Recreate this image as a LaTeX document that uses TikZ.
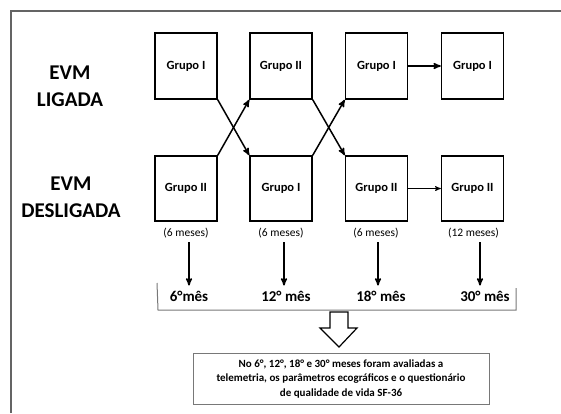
\documentclass[tikz,border=0pt]{standalone}
\usepackage{fontspec}
\setmainfont{Carlito}
\usetikzlibrary{arrows,calc}
\definecolor{frame_gray}{RGB}{100, 100, 100}
\definecolor{brace_gray}{RGB}{120, 120, 120}
\tikzstyle{gb}=[rectangle,draw=black,line width=1.5pt,inner sep=0pt,
  minimum width=62pt,minimum height=66pt,font=\bfseries\fontsize{12.5}{14}\selectfont]
\tikzstyle{lbl}=[align=center,font=\bfseries\fontsize{21}{27}\selectfont]
\tikzstyle{dur}=[inner sep=1pt,font=\fontsize{11.5}{13}\selectfont]
\tikzstyle{mes}=[inner sep=1pt,font=\bfseries\fontsize{15}{17}\selectfont]
\tikzstyle{arr}=[-stealth',line width=1.5pt]
\begin{document}
\begin{tikzpicture}[x=1pt,y=-1pt]
        \useasboundingbox (0,0) rectangle (561,413);
        % frame
        \draw[frame_gray,line width=2pt] (11,413) -- (11,11) -- (561,11);
        % row labels
        \node[style=lbl] (on) at (70,86) {EVM\\LIGADA};
        \node[style=lbl] (off) at (71,197) {EVM\\DESLIGADA};
        % groups
        \node[style=gb] (t1) at (186,66) {Grupo I};
        \node[style=gb] (t2) at (281,66) {Grupo II};
        \node[style=gb] (t3) at (376.5,66) {Grupo I};
        \node[style=gb] (t4) at (472.5,66) {Grupo I};
        \node[style=gb,minimum height=65pt] (b1) at (186,188.5) {Grupo II};
        \node[style=gb,minimum height=65pt] (b2) at (281,188.5) {Grupo I};
        \node[style=gb,minimum height=65pt] (b3) at (376.5,188.5) {Grupo II};
        \node[style=gb,minimum height=65pt] (b4) at (472.5,188.5) {Grupo II};
        \draw[style=arr] (t1.south east) to (b2.north west);
        \draw[style=arr] (b1.north east) to (t2.south west);
        \draw[style=arr] (t2.south east) to (b3.north west);
        \draw[style=arr] (b2.north east) to (t3.south west);
        \draw[style=arr] (t3) to (t4);
        \draw[style=arr,line width=1pt] (b3) to (b4);
        % durations
        \node[style=dur] (d1) at (186,233) {(6 meses)};
        \node[style=dur] (d2) at (281,233) {(6 meses)};
        \node[style=dur] (d3) at (376,233) {(6 meses)};
        \node[style=dur] (d4) at (473.5,233) {(12 meses)};
        % months
        \node[style=mes] (m1) at (189,296) {6°mês};
        \node[style=mes] (m2) at (286,296) {12° mês};
        \node[style=mes] (m3) at (381,296) {18° mês};
        \node[style=mes] (m4) at (485,296) {30° mês};
        \coordinate (a1) at (189,242);
        \coordinate (a2) at (284,242);
        \coordinate (a3) at (378,242);
        \coordinate (a4) at (480,242);
        \draw[style=arr,shorten >=4pt] (a1) to (a1 |- m1.north);
        \draw[style=arr,shorten >=4pt] (a2) to (a2 |- m2.north);
        \draw[style=arr,shorten >=4pt] (a3) to (a3 |- m3.north);
        \draw[style=arr,shorten >=4pt] (a4) to (a4 |- m4.north);
        % bracket
        \draw[brace_gray,line width=1pt] (157,283) -- (158,310) -- (516,310) -- (516,288);
        % hollow arrow
        \draw[line width=1.2pt,line join=miter] (330,312) -- (330,328) -- (320,328) -- (339,347)
          -- (357,328) -- (348,328) -- (348,312) -- cycle;
        % summary
        \node[draw=brace_gray,line width=1pt,minimum width=296pt,minimum height=51pt,
          align=center,inner sep=2pt,font=\bfseries\fontsize{11}{14.5}\selectfont] (s) at (341,378.5)
          {No 6°, 12°, 18° e 30° meses foram avaliadas a\\
           telemetria, os parâmetros ecográficos e o questionário\\
           de qualidade de vida SF-36};
    \end{tikzpicture}
\end{document}
